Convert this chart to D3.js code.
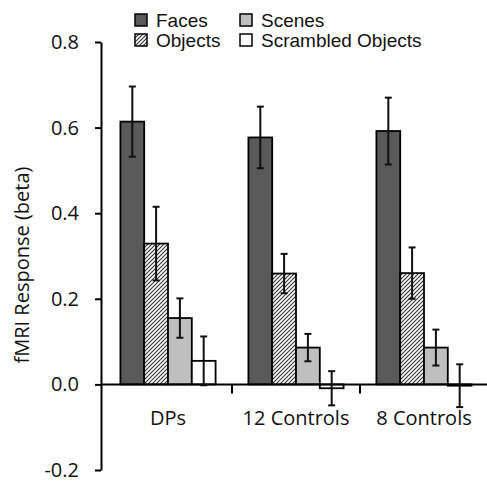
<!DOCTYPE html>
<html>
<head>
<meta charset="utf-8">
<script src="https://cdn.jsdelivr.net/npm/d3@7"></script>
<style>
    body { margin: 0; background: #fff; }
    svg { display: block; }
</style>
</head>
<body>
<script>
/*Chart data*/
var categories = ["DPs", "12 Controls", "8 Controls"];
var series = ["Faces", "Objects", "Scenes", "Scrambled Objects"];
var faces = [0.614, 0.577, 0.592],
    facesErr = [0.082, 0.072, 0.078];
var objects = [0.329, 0.259, 0.260],
    objectsErr = [0.086, 0.046, 0.060];
var scenes = [0.155, 0.086, 0.086],
    scenesErr = [0.046, 0.032, 0.042];
var scrambled = [0.055, -0.009, -0.003],
    scrambledErr = [0.057, 0.040, 0.050];
var yTicks = [-0.2, 0.0, 0.2, 0.4, 0.6, 0.8];

var width = 487,
    height = 483;

var fills = {
    "Faces": "#595959",
    "Objects": "url(#hatch)",
    "Scenes": "#bfbfbf",
    "Scrambled Objects": "#ffffff"
};

/*Build rows for each bar*/
var values = [faces, objects, scenes, scrambled],
    errors = [facesErr, objectsErr, scenesErr, scrambledErr];
var bars = [];
categories.forEach(function(c, i) {
    series.forEach(function(s, j) {
        bars.push({ cat: c, series: s, value: values[j][i], err: errors[j][i] });
    });
});

var svg = d3.select("body").append("svg")
    .attr("width", width)
    .attr("height", height);

/*Diagonal hatch for the Objects bars*/
var pattern = svg.append("defs").append("pattern")
    .attr("id", "hatch")
    .attr("patternUnits", "userSpaceOnUse")
    .attr("width", 4)
    .attr("height", 4);
pattern.append("rect").attr("width", 4).attr("height", 4).attr("fill", "#fff");
pattern.append("path")
    .attr("d", "M-1,1 l2,-2 M0,4 l4,-4 M3,5 l2,-2")
    .attr("stroke", "#333")
    .attr("stroke-width", 1.1);

var y = d3.scaleLinear()
    .domain([-0.2, 0.8])
    .range([470, 42]);

var x0 = d3.scaleBand()
    .domain(categories)
    .range([104, 488]);

var x1 = d3.scaleBand()
    .domain(series)
    .range([0, x0.bandwidth()])
    .paddingOuter(0.69);

var axisX = 101;

/*Y axis*/
var yAxis = svg.append("g")
    .attr("transform", "translate(" + axisX + ",0)")
    .call(d3.axisLeft(y)
        .tickValues(yTicks)
        .tickFormat(function(d) { return d.toFixed(1); })
        .tickSize(6)
        .tickSizeOuter(0)
        .tickPadding(16));
yAxis.select(".domain").attr("stroke", "#000").attr("stroke-width", 2);
yAxis.selectAll(".tick line").attr("stroke", "#000").attr("stroke-width", 2);
yAxis.selectAll(".tick text")
    .attr("font-family", "Open Sans")
    .attr("font-size", 20)
    .attr("fill", "#111");

svg.append("text")
    .attr("transform", "translate(24," + 265 + ") rotate(-90)")
    .attr("text-anchor", "middle")
    .attr("dominant-baseline", "middle")
    .attr("font-family", "Open Sans")
    .attr("font-size", 20)
    .attr("fill", "#111")
    .text("fMRI Response (beta)");

/*Bars*/
svg.selectAll("rect.bar")
    .data(bars)
    .enter().append("rect")
    .attr("class", "bar")
    .attr("x", function(d) { return x0(d.cat) + x1(d.series); })
    .attr("y", function(d) { return y(Math.max(0, d.value)); })
    .attr("width", x1.bandwidth())
    .attr("height", function(d) { return Math.abs(y(d.value) - y(0)); })
    .attr("fill", function(d) { return fills[d.series]; })
    .attr("stroke", "#000")
    .attr("stroke-width", 1.8);

/*X axis line and group separators*/
svg.append("line")
    .attr("x1", axisX).attr("x2", width)
    .attr("y1", y(0)).attr("y2", y(0))
    .attr("stroke", "#000").attr("stroke-width", 2);

svg.selectAll("line.sep")
    .data(categories.slice(1))
    .enter().append("line")
    .attr("class", "sep")
    .attr("x1", function(d) { return x0(d); })
    .attr("x2", function(d) { return x0(d); })
    .attr("y1", y(0)).attr("y2", y(0) + 9)
    .attr("stroke", "#000").attr("stroke-width", 2);

/*Error bars*/
var eb = svg.selectAll("g.err")
    .data(bars)
    .enter().append("g")
    .attr("class", "err")
    .attr("transform", function(d) {
        return "translate(" + (x0(d.cat) + x1(d.series) + x1.bandwidth() / 2) + ",0)";
    })
    .attr("stroke", "#111")
    .attr("stroke-width", 2);
eb.append("line")
    .attr("y1", function(d) { return y(d.value + d.err); })
    .attr("y2", function(d) { return y(d.value - d.err); });
eb.append("line")
    .attr("x1", -3.5).attr("x2", 3.5)
    .attr("y1", function(d) { return y(d.value + d.err); })
    .attr("y2", function(d) { return y(d.value + d.err); });
eb.append("line")
    .attr("x1", -3.5).attr("x2", 3.5)
    .attr("y1", function(d) { return y(d.value - d.err); })
    .attr("y2", function(d) { return y(d.value - d.err); });

/*Category labels*/
svg.selectAll("text.cat")
    .data(categories)
    .enter().append("text")
    .attr("class", "cat")
    .attr("x", function(d) { return x0(d) + x0.bandwidth() / 2; })
    .attr("y", 425)
    .attr("text-anchor", "middle")
    .attr("font-family", "Open Sans")
    .attr("font-size", 20)
    .attr("fill", "#111")
    .text(function(d) { return d; });

/*Legend, two columns*/
var legendPos = {
    "Faces": [135, 14],
    "Scenes": [240, 14],
    "Objects": [135, 34],
    "Scrambled Objects": [240, 34]
};
var legend = svg.selectAll("g.legend")
    .data(series)
    .enter().append("g")
    .attr("class", "legend")
    .attr("transform", function(d) {
        return "translate(" + legendPos[d][0] + "," + legendPos[d][1] + ")";
    });
legend.append("rect")
    .attr("width", 12)
    .attr("height", 12)
    .attr("fill", function(d) { return fills[d]; })
    .attr("stroke", "#000")
    .attr("stroke-width", 1.5);
legend.append("text")
    .attr("x", 21)
    .attr("y", 13)
    .attr("font-family", "Liberation Sans, Arial")
    .attr("font-size", 19)
    .attr("fill", "#111")
    .text(function(d) { return d; });
</script>
</body>
</html>
